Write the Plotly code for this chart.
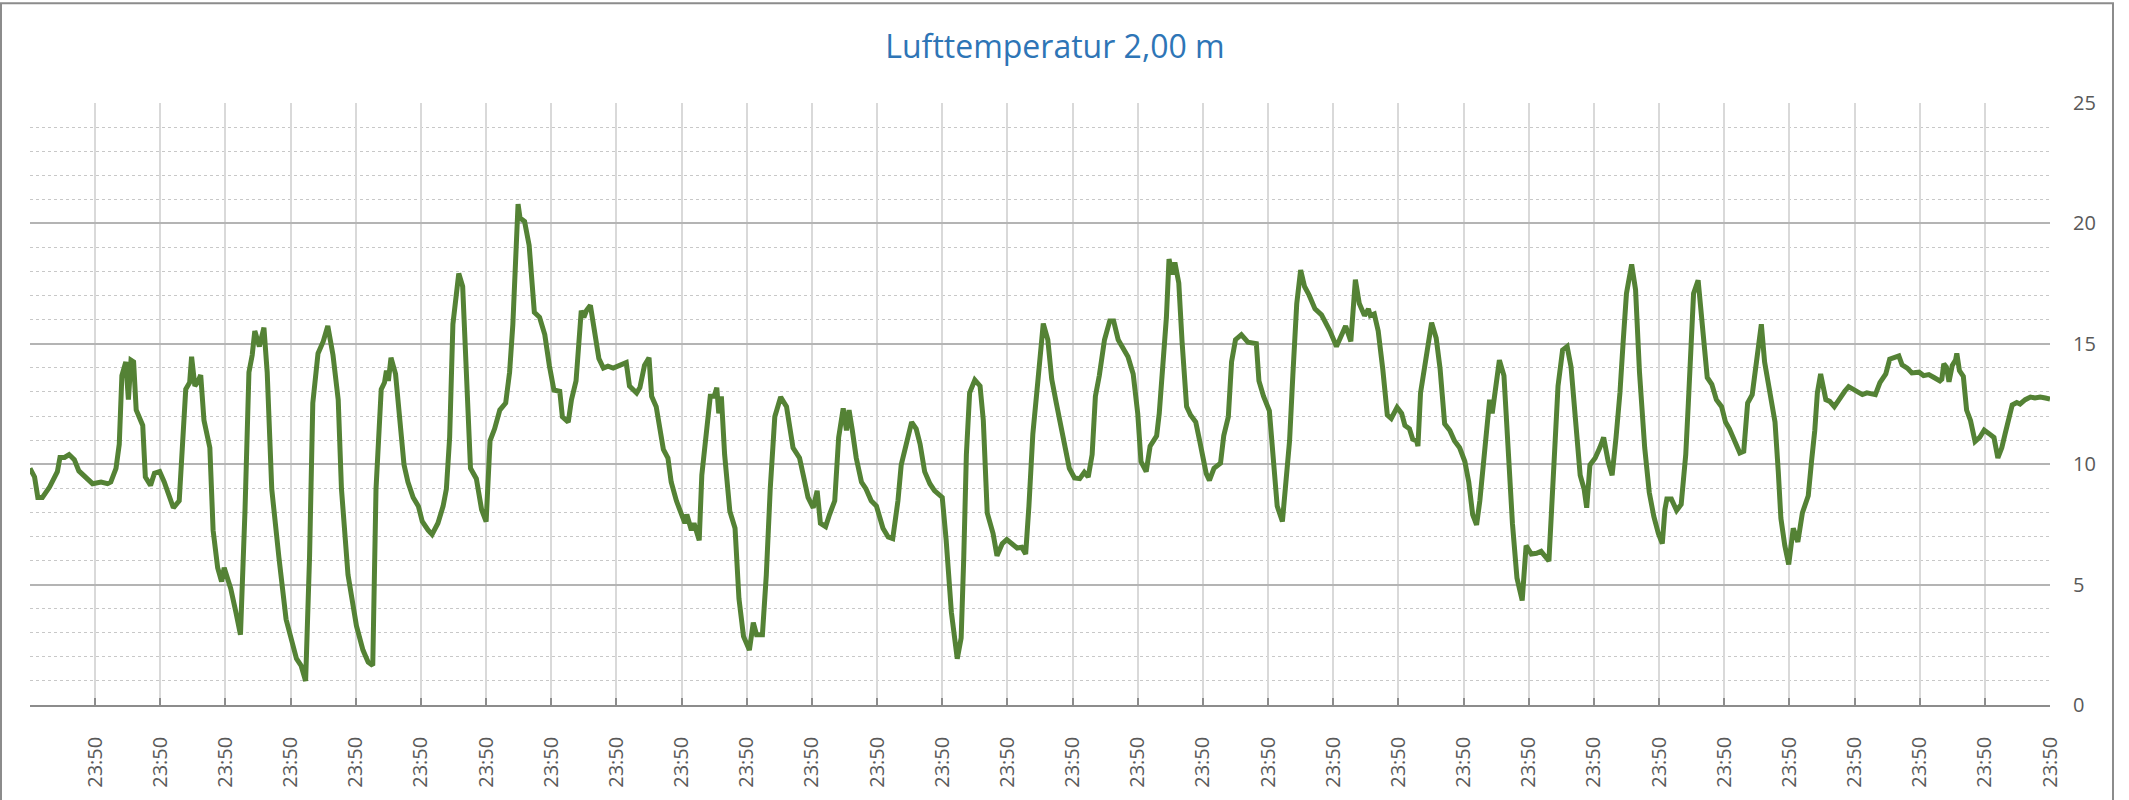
import plotly.graph_objects as go

# ---- data ----
title_text = "Lufttemperatur 2,00 m"
day_labels = ["23:50"] * 31          # one label per day boundary
y_ticks = [0, 5, 10, 15, 20, 25]

# time in days since the left edge of the axis (23:50 of the previous day)
day_offset = [
    0.00, 0.07, 0.12, 0.19, 0.30, 0.37, 0.42, 0.46, 0.53, 0.60, 0.68, 0.75, 0.83, 0.96, 1.09, 1.19, 1.24, 1.32,
    1.37, 1.41, 1.47, 1.51, 1.55, 1.59, 1.63, 1.73, 1.77, 1.85, 1.91, 1.99, 2.06, 2.13, 2.20, 2.29, 2.34, 2.39,
    2.45, 2.48, 2.53, 2.57, 2.62, 2.67, 2.76, 2.81, 2.88, 2.94, 2.98, 3.08, 3.16, 3.23, 3.30, 3.36, 3.41, 3.45,
    3.52, 3.59, 3.64, 3.71, 3.82,
    3.93, 4.09, 4.16, 4.23, 4.29, 4.34, 4.42, 4.50, 4.57, 4.65, 4.73, 4.78, 4.88, 5.01, 5.11, 5.19, 5.26, 5.31,
    5.39, 5.44, 5.47, 5.50, 5.54, 5.61, 5.67, 5.74, 5.80, 5.88, 5.96, 6.02, 6.11, 6.17, 6.26, 6.34, 6.39, 6.44,
    6.49, 6.54, 6.58, 6.64, 6.69, 6.76, 6.85, 6.93, 7.00, 7.06, 7.13, 7.21, 7.30, 7.36, 7.41, 7.45, 7.49, 7.52,
    7.59, 7.66, 7.74, 7.82, 7.90,
    7.97, 8.04, 8.13, 8.17, 8.26, 8.31, 8.38, 8.44, 8.46, 8.50, 8.54, 8.60, 8.67, 8.73, 8.80, 8.87, 8.95, 9.02,
    9.15, 9.20, 9.31, 9.36, 9.43, 9.50, 9.54, 9.61, 9.72, 9.79, 9.84, 9.92, 9.99, 10.05, 10.08, 10.15, 10.19,
    10.27, 10.31, 10.38, 10.44, 10.50, 10.54, 10.57, 10.61, 10.66, 10.74, 10.82, 10.88, 10.95, 11.04, 11.10,
    11.15, 11.24, 11.30, 11.36, 11.43, 11.52, 11.61, 11.71, 11.81, 11.89,
    11.94, 12.02, 12.08, 12.13, 12.21, 12.27, 12.35, 12.41, 12.48, 12.53, 12.57, 12.62, 12.68, 12.76, 12.83,
    12.91, 12.99, 13.09, 13.17, 13.24, 13.32, 13.37, 13.44, 13.53, 13.60, 13.66, 13.73, 13.81, 13.88, 14.00,
    14.06, 14.14, 14.23, 14.29, 14.33, 14.37, 14.42, 14.50, 14.58, 14.63, 14.69, 14.78, 14.84, 14.92, 14.99,
    15.06, 15.15, 15.22, 15.28, 15.33, 15.39, 15.47, 15.55, 15.62, 15.68, 15.75, 15.83, 15.90,
    15.95, 16.03, 16.11, 16.18, 16.24, 16.30, 16.35, 16.41, 16.49, 16.57, 16.63, 16.70, 16.77, 16.85, 16.93,
    17.00, 17.05, 17.13, 17.19, 17.29, 17.33, 17.39, 17.44, 17.48, 17.53, 17.57, 17.63, 17.68, 17.75, 17.81,
    17.89, 17.95, 18.05, 18.10, 18.17, 18.27, 18.32, 18.39, 18.44, 18.50, 18.59, 18.69, 18.82, 18.86, 18.93,
    19.02, 19.08, 19.14, 19.22, 19.27, 19.33, 19.38, 19.44, 19.50, 19.56, 19.63, 19.72, 19.82,
    19.95, 20.05, 20.11, 20.19, 20.27, 20.31, 20.34, 20.40, 20.48, 20.54, 20.57, 20.63, 20.69, 20.76, 20.83,
    20.89, 20.98, 21.05, 21.10, 21.17, 21.22, 21.28, 21.30, 21.34, 21.41, 21.46, 21.51, 21.58, 21.64, 21.71,
    21.79, 21.86, 21.94, 22.02, 22.08, 22.14, 22.20, 22.25, 22.32, 22.40, 22.44, 22.50, 22.55, 22.62, 22.68,
    22.75, 22.82, 22.90, 22.96, 23.04, 23.12, 23.19, 23.31, 23.35, 23.40, 23.45, 23.52, 23.59, 23.65, 23.72,
    23.79,
    23.85, 23.89, 23.94, 24.02, 24.09, 24.15, 24.22, 24.28, 24.34, 24.40, 24.45, 24.50, 24.58, 24.64, 24.70,
    24.78, 24.85, 24.92, 24.99, 25.05, 25.09, 25.12, 25.19, 25.27, 25.34, 25.41, 25.45, 25.49, 25.53, 25.60,
    25.65, 25.69, 25.74, 25.81, 25.88, 25.96, 26.02, 26.08, 26.16, 26.24, 26.30, 26.36, 26.43, 26.49, 26.57,
    26.62, 26.67, 26.72, 26.78, 26.83, 26.87, 26.93, 26.99, 27.06, 27.13, 27.20, 27.29, 27.34, 27.39, 27.43,
    27.48, 27.56, 27.62, 27.69, 27.77, 27.85,
    27.91, 28.02, 28.12, 28.19, 28.32, 28.39, 28.48, 28.54, 28.63, 28.68, 28.73, 28.81, 28.88, 28.99, 29.06,
    29.14, 29.22, 29.31, 29.34, 29.37, 29.41, 29.45, 29.50, 29.55, 29.57, 29.61, 29.67, 29.72, 29.78, 29.85,
    29.92, 29.99, 30.06, 30.14, 30.20, 30.26, 30.31, 30.37, 30.42, 30.49, 30.54, 30.62, 30.70, 30.77, 30.85,
    30.93, 31.00,
]

temp_c = [
    9.83, 9.47, 8.62, 8.62, 9.05, 9.47, 9.69, 10.28, 10.28, 10.40, 10.19, 9.72, 9.52, 9.19, 9.26, 9.19, 9.26, 9.83,
    10.83, 13.68, 14.25, 12.68, 14.32, 14.25, 12.25, 11.61, 9.47, 9.12, 9.62, 9.69, 9.26, 8.69, 8.19, 8.48, 10.97, 13.11,
    13.39, 14.46, 13.25, 13.39, 13.70, 11.82, 10.68, 7.26, 5.70, 5.13, 5.70, 4.84, 3.85, 2.92, 8.12, 13.82, 14.53, 15.53,
    14.89, 15.67, 13.82, 8.97, 6.13,
    3.56, 1.92, 1.64, 1.00, 6.13, 12.54, 14.60, 15.10, 15.74, 14.53, 12.68, 8.97, 5.41, 3.28, 2.28, 1.78, 1.64, 8.97,
    13.11, 13.39, 13.89, 13.46, 14.42, 13.75, 11.82, 9.97, 9.26, 8.62, 8.26, 7.62, 7.26, 7.08, 7.55, 8.26, 8.97, 11.11,
    15.81, 17.24, 17.92, 17.38, 13.96, 9.83, 9.40, 8.12, 7.62, 10.97, 11.47, 12.25, 12.54, 13.82, 15.81, 18.66, 20.80, 20.23,
    20.08, 19.09, 16.31, 16.10, 15.38,
    14.10, 13.08, 13.03, 11.97, 11.75, 12.68, 13.46, 15.38, 16.38, 16.10, 16.38, 16.60, 15.53, 14.39, 13.99, 14.07, 13.99, 14.07,
    14.22, 13.25, 12.96, 13.18, 14.10, 14.42, 12.82, 12.39, 10.61, 10.26, 9.26, 8.48, 7.98, 7.55, 7.91, 7.26, 7.55,
    6.84, 9.54, 11.11, 12.82, 12.82, 13.18, 12.11, 12.82, 10.40, 8.05, 7.34, 4.42, 2.85, 2.28, 3.42,
    2.92, 2.92, 5.41, 8.97, 11.97, 12.79, 12.39, 10.68, 10.26, 9.26,
    8.62, 8.19, 8.90, 7.55, 7.41, 7.91, 8.48, 11.11, 12.32, 11.40, 12.25, 11.40, 10.26, 9.26, 8.97,
    8.48, 8.26, 7.34, 6.98, 6.91, 8.48, 9.97, 10.68, 11.75, 11.47, 10.83, 9.69, 9.19, 8.90, 8.62,
    6.84, 3.85, 1.92, 2.78, 6.13, 10.40, 12.96, 13.50, 13.25, 11.82, 7.98, 7.12, 6.20, 6.70, 6.87,
    6.70, 6.52, 6.55, 6.27, 8.26, 11.25, 13.53, 15.84, 15.17, 13.53, 12.54, 11.40, 10.40,
    9.83, 9.43, 9.40, 9.66, 9.47, 10.40, 12.82, 13.68, 15.17, 15.95, 15.95, 15.17, 14.81, 14.46, 13.75,
    12.11, 10.11, 9.69, 10.75, 11.18, 12.11, 14.39, 16.10, 18.52, 17.88, 18.38, 17.52, 15.10, 12.39, 12.04,
    11.75, 10.97, 9.62, 9.33, 9.83, 10.04, 11.18, 11.97, 14.25, 15.17, 15.38, 15.07, 15.01, 13.46, 12.82,
    12.22, 9.97, 8.26, 7.62, 9.12, 10.97, 13.68, 16.67, 18.06, 17.38, 17.02, 16.45, 16.20,
    15.53, 14.89, 15.31, 15.74, 15.10, 16.67, 17.66, 16.67, 16.17, 16.45, 16.17, 16.24, 15.53, 13.96, 12.04,
    11.90, 12.36, 12.11, 11.61, 11.47, 11.04, 10.97, 10.75, 12.96, 14.25, 15.24, 15.88, 15.24, 13.96, 11.68,
    11.40, 10.97, 10.68, 10.11, 9.26, 7.91, 7.48, 8.48, 10.26, 12.68, 12.11, 13.53, 14.32, 13.68, 10.40,
    7.55, 5.27, 4.34, 6.62, 6.27, 6.30, 6.38, 5.98, 7.98, 10.40, 13.25, 14.74, 14.89, 14.03, 11.54,
    9.54,
    8.97, 8.19, 9.97, 10.26, 10.68, 11.11, 10.11, 9.54, 11.11, 12.96, 15.10, 17.09, 18.30, 17.24, 13.82,
    10.68, 8.83, 7.83, 7.12, 6.70, 8.12, 8.55, 8.55, 8.08, 8.33, 10.40, 12.54, 14.67, 17.09, 17.64,
    16.10, 14.96, 13.60, 13.32, 12.68, 12.39, 11.75, 11.47, 10.97, 10.47, 10.54, 12.54, 12.89, 14.10, 15.81,
    14.25, 13.53, 12.82, 11.75, 9.69, 7.76, 6.62, 5.84, 7.34, 6.77, 7.98, 8.69, 10.11, 11.40, 12.96,
    13.75, 12.68, 12.61, 12.39, 12.75, 13.03,
    13.22, 13.03, 12.89, 12.96, 12.89, 13.39, 13.75, 14.36, 14.42, 14.50, 14.13, 13.99, 13.79, 13.82, 13.68,
    13.72, 13.60, 13.46, 13.53, 14.17, 14.03, 13.42, 14.10, 14.32, 14.60, 13.89, 13.65, 12.25, 11.82, 10.94,
    11.11, 11.42, 11.28, 11.11, 10.26, 10.68, 11.25, 11.82, 12.46, 12.56, 12.50, 12.68, 12.79, 12.75, 12.79,
    12.75, 12.71,
]

# ---- figure ----
W, H = 2129, 800
L, R, T, B = 30, 2050, 103, 707

fig = go.Figure()
fig.add_trace(go.Scatter(
    x=day_offset, y=temp_c, mode="lines",
    line=dict(color="#548235", width=5),
    showlegend=False, hoverinfo="skip",
))

tick_font = dict(family="Open Sans", size=20, color="#595959")

fig.update_layout(
    width=W, height=H,
    margin=dict(l=L, r=W - R, t=T, b=H - B, pad=0),
    paper_bgcolor="white", plot_bgcolor="white",
    title=dict(text=title_text, x=1055 / W, xref="container", xanchor="center",
               y=1 - 47 / H, yref="container", yanchor="middle",
               font=dict(family="Open Sans", size=32, color="#2E75B6")),
    xaxis=dict(
        range=[0, len(day_labels)],
        tickmode="array",
        tickvals=list(range(0, len(day_labels) + 1)),
        ticktext=[""] + day_labels,
        tickangle=-90,
        tickfont=tick_font,
        showgrid=True, gridcolor="#D9D9D9", gridwidth=1.5,
        showline=True, linecolor="#8C8C8C", linewidth=1.5,
        ticks="inside", ticklen=7, tickwidth=1.5, tickcolor="#8C8C8C",
        ticklabelstandoff=22,
        zeroline=False, fixedrange=True,
    ),
    yaxis=dict(
        range=[0, 25], side="right",
        tickmode="array", tickvals=y_ticks,
        tickfont=tick_font,
        showgrid=True, gridcolor="#B4B4B4", gridwidth=1.5,
        minor=dict(dtick=1, showgrid=True, gridcolor="#C8C8C8", griddash="dot", gridwidth=1),
        ticks="", ticklabelstandoff=22,
        showline=False, zeroline=False, fixedrange=True,
    ),
)

# outer chart border
pw, ph = R - L, B - T
fig.add_shape(type="rect", xref="paper", yref="paper",
              x0=(1 - L) / pw, x1=(2113 - L) / pw,
              y0=(B - 840) / ph, y1=(B - 3) / ph,
              line=dict(color="#8C8C8C", width=2), fillcolor="rgba(0,0,0,0)", layer="below")

fig.write_html("out.html", config={"displayModeBar": False},
               post_script="document.body.style.margin='0';document.body.style.overflow='hidden';")
